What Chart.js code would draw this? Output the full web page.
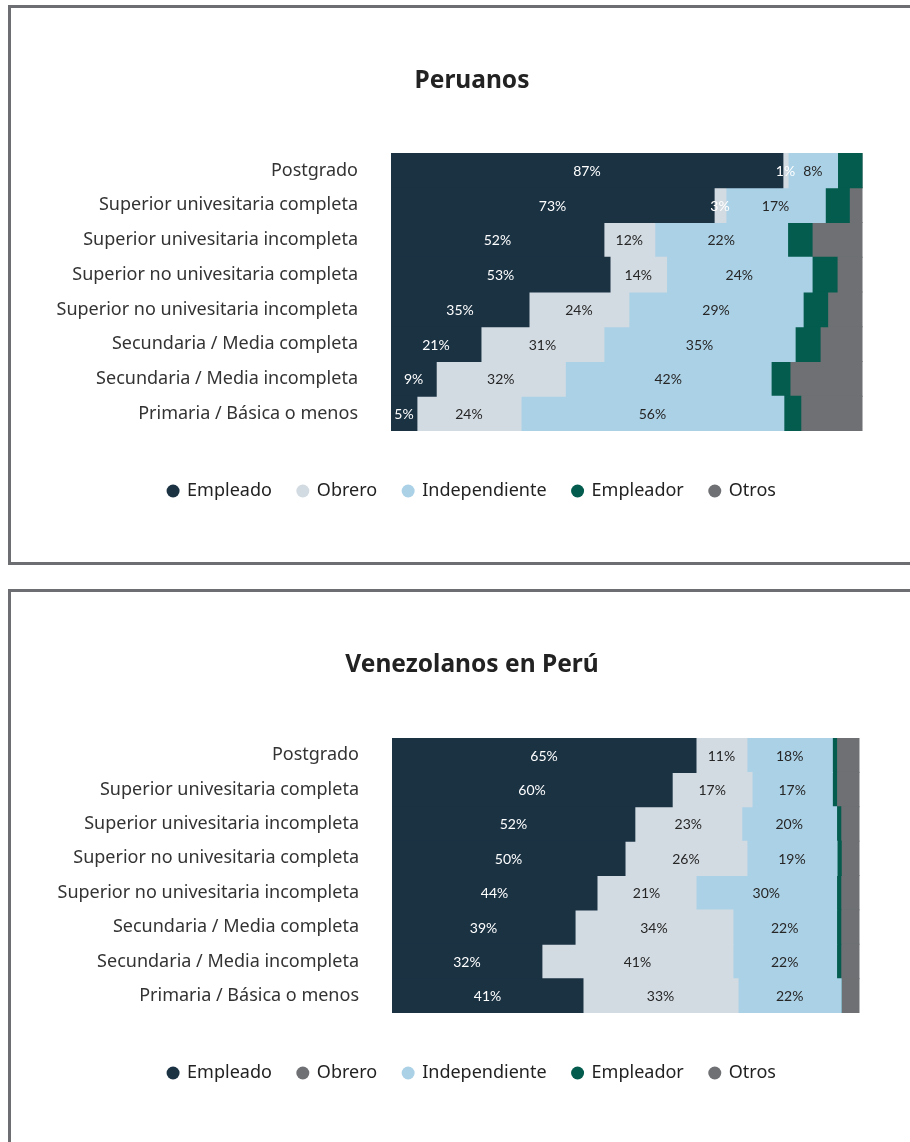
<!DOCTYPE html>
<html>
<head>
<meta charset="utf-8">
<script src="https://cdn.jsdelivr.net/npm/chart.js@4/dist/chart.umd.min.js"></script>
<style>
  body { margin: 0; background: #fff; overflow: hidden; width: 910px; height: 1142px; position: relative; }
  .panel { position: absolute; left: 8px; width: 940px; box-sizing: border-box; border: 3px solid #6d6e71; background: #fff; }
  #panelPe { top: 5px; height: 560px; }
  #panelVe { top: 589px; height: 600px; }
  .panel canvas { display: block; }
</style>
</head>
<body>
<div class="panel" id="panelPe"><canvas id="chartPe" width="924" height="554"></canvas></div>
<div class="panel" id="panelVe"><canvas id="chartVe" width="924" height="554"></canvas></div>
<script>
// Categorias (de arriba hacia abajo)
const categorias = [
  'Postgrado',
  'Superior univesitaria completa',
  'Superior univesitaria incompleta',
  'Superior no univesitaria completa',
  'Superior no univesitaria incompleta',
  'Secundaria / Media completa',
  'Secundaria / Media incompleta',
  'Primaria / Básica o menos'
];
const series = ['Empleado', 'Obrero', 'Independiente', 'Empleador', 'Otros'];
const colores = ['#1b3243', '#d3dbe2', '#abd1e6', '#035c4e', '#6e7073'];

// Peruanos - ancho de cada tramo (% de la barra)
const peEmpleado      = [83.2, 68.6, 45.2, 46.5, 29.3, 19.1,  9.6,  5.5];
const peObrero        = [ 1.1,  2.5, 10.8, 12.0, 21.2, 26.1, 27.4, 22.1];
const peIndependiente = [10.5, 21.1, 28.2, 30.9, 37.0, 40.6, 43.7, 55.8];
const peEmpleador     = [ 5.2,  5.1,  5.2,  5.3,  5.2,  5.3,  4.0,  3.6];
const peOtros         = [ 0.0,  2.7, 10.6,  5.3,  7.3,  8.9, 15.3, 13.0];
// Peruanos - etiquetas impresas
const peEtqEmpleado      = [87, 73, 52, 53, 35, 21,  9,  5];
const peEtqObrero        = [ 1,  3, 12, 14, 24, 31, 32, 24];
const peEtqIndependiente = [ 8, 17, 22, 24, 29, 35, 42, 56];

// Venezolanos en Perú
const veEmpleado      = [65.1, 60.0, 52.0, 49.9, 43.9, 39.2, 32.1, 40.9];
const veObrero        = [10.9, 17.1, 22.9, 26.1, 21.2, 33.8, 40.9, 33.2];
const veIndependiente = [18.3, 17.2, 20.3, 19.3, 30.1, 22.2, 22.2, 22.1];
const veEmpleador     = [ 0.9,  0.9,  0.9,  0.9,  0.9,  0.9,  0.9,  0.0];
const veOtros         = [ 4.8,  4.8,  3.9,  3.8,  3.9,  3.9,  3.9,  3.8];
const veEtqEmpleado      = [65, 60, 52, 50, 44, 39, 32, 41];
const veEtqObrero        = [11, 17, 23, 26, 21, 34, 41, 33];
const veEtqIndependiente = [18, 17, 20, 19, 30, 22, 22, 22];

const coloresLeyendaVe = ['#1b3243', '#6e7073', '#abd1e6', '#035c4e', '#6e7073'];

// Plugin para dibujar las etiquetas de datos
const etiquetasPlugin = {
  id: 'etiquetas',
  afterDatasetsDraw(chart) {
    const ctx = chart.ctx;
    const etq = chart.options.plugins.etiquetas.textos;
    ctx.save();
    ctx.font = '14px Lato, "Noto Sans", sans-serif';
    ctx.textAlign = 'center';
    ctx.textBaseline = 'middle';
    etq.forEach((valores, di) => {
      const meta = chart.getDatasetMeta(di);
      meta.data.forEach((bar, i) => {
        const p = bar.getProps(['x', 'y', 'base'], true);
        const txt = valores[i] + '%';
        // tramos muy angostos: el texto queda en blanco como en el original
        const angosto = Math.abs(p.x - p.base) < ctx.measureText(txt).width;
        ctx.fillStyle = (di === 0 || angosto) ? '#ffffff' : '#262626';
        ctx.fillText(txt, (p.x + p.base) / 2, p.y + 1);
      });
    });
    ctx.restore();
  }
};

function crearGrafico(id, titulo, valores, textos, coloresLeyenda, g) {
  const datasets = series.map((nombre, i) => ({
    label: nombre,
    data: valores[i],
    backgroundColor: colores[i],
    borderWidth: 0,
    inflateAmount: 0.5,
    barPercentage: 1,
    categoryPercentage: 1
  }));
  return new Chart(document.getElementById(id), {
    type: 'bar',
    data: { labels: categorias, datasets: datasets },
    options: {
      indexAxis: 'y',
      responsive: false,
      animation: false,
      layout: { padding: { left: 0, right: 2, top: 0, bottom: g.padBottom } },
      scales: {
        x: {
          // el eje llega hasta el borde derecho (fuera de la imagen), las barras ocupan 0-100
          stacked: true, min: 0, max: g.xMax,
          grid: { display: false, drawTicks: false }, border: { display: false },
          ticks: { display: false },
          afterFit: s => { s.height = g.xHeight; }
        },
        y: {
          stacked: true,
          grid: { display: false, drawTicks: false }, border: { display: false },
          ticks: { color: '#333333', padding: 33, font: { family: '"Noto Sans", sans-serif', size: 18 } },
          afterFit: s => { s.width = g.yWidth; }
        }
      },
      plugins: {
        title: {
          display: true, text: titulo, color: '#222222',
          font: { family: '"Noto Sans", sans-serif', size: 24.5, weight: 'bold' },
          padding: { top: g.titleTop, bottom: g.titleBottom }
        },
        legend: {
          position: 'bottom',
          labels: {
            usePointStyle: true, pointStyle: 'circle',
            boxWidth: 10, boxHeight: 9.2, padding: 26,
            color: '#222222',
            font: { family: '"Noto Sans", sans-serif', size: 18 },
            generateLabels: chart => {
              const items = Chart.defaults.plugins.legend.labels.generateLabels(chart);
              items.forEach((it, i) => {
                it.fillStyle = coloresLeyenda[i];
                it.strokeStyle = coloresLeyenda[i];
                it.lineWidth = 0;
              });
              return items;
            }
          }
        },
        tooltip: { enabled: false },
        etiquetas: { textos: textos }
      }
    },
    plugins: [etiquetasPlugin]
  });
}

crearGrafico('chartPe', 'Peruanos',
  [peEmpleado, peObrero, peIndependiente, peEmpleador, peOtros],
  [peEtqEmpleado, peEtqObrero, peEtqIndependiente],
  colores,
  { xMax: 115.07, padBottom: 52, xHeight: 25, yWidth: 380, titleTop: 58.3, titleBottom: 57.3 });

crearGrafico('chartVe', 'Venezolanos en Perú',
  [veEmpleado, veObrero, veIndependiente, veEmpleador, veOtros],
  [veEtqEmpleado, veEtqObrero, veEtqIndependiente],
  coloresLeyendaVe,
  { xMax: 115.85, padBottom: 54, xHeight: 25, yWidth: 381, titleTop: 58.3, titleBottom: 58.3 });
</script>
</body>
</html>
